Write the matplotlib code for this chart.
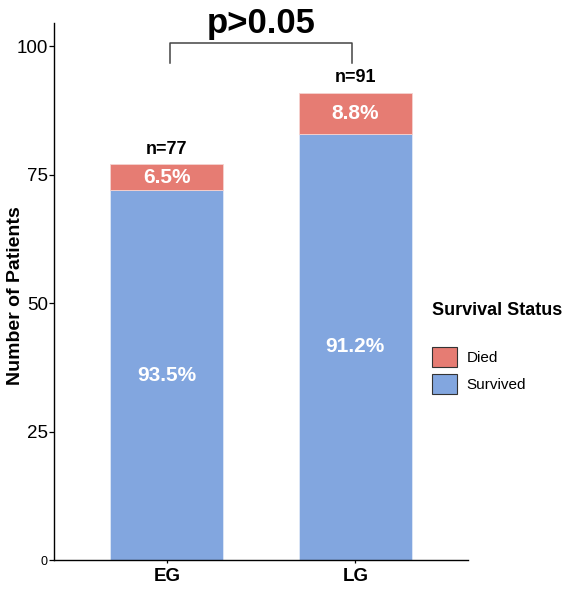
import matplotlib
matplotlib.use("Agg")
import matplotlib.pyplot as plt
from matplotlib.patches import Patch

plt.rcParams['font.family'] = ['Liberation Sans', 'DejaVu Sans']

groups = ["EG", "LG"]
survived = [72, 83]
died = [5, 8]
survived_pct = ["93.5%", "91.2%"]
died_pct = ["6.5%", "8.8%"]
totals = [77, 91]
yticks = [0, 25, 50, 75, 100]

c_died = "#E67C73"
c_surv = "#82A6DF"

fig = plt.figure(figsize=(5.67, 5.89), dpi=100)
ax = fig.add_axes([0.0952, 0.0492, 0.7307, 0.9123])

x = list(range(len(groups)))
ax.bar(x, survived, width=0.6, color=c_surv, edgecolor="#dfe8f7", linewidth=0.6)
ax.bar(x, died, width=0.6, bottom=survived, color=c_died, edgecolor="#f5d3d0", linewidth=0.6)

for i in x:
    ax.text(i, survived[i] / 2, survived_pct[i], ha="center", va="center",
            color="white", fontsize=15, fontweight="bold")
    ax.text(i, survived[i] + died[i] / 2, died_pct[i], ha="center", va="center",
            color="white", fontsize=15, fontweight="bold")
    ax.text(i, totals[i] + 3, f"n={totals[i]}", ha="center", va="center",
            color="black", fontsize=13, fontweight="bold")

# significance bracket
bx0, bx1 = 0.014, 0.984
ax.plot([bx0, bx0, bx1, bx1], [96.8, 100.6, 100.6, 96.8], color="#444444",
        lw=1.1, clip_on=False)
ax.text(0.5, 102.6, "p>0.05", ha="center", va="baseline",
        fontsize=25, fontweight="bold", clip_on=False)

ax.set_xlim(-0.6, 1.6)
ax.set_ylim(0, 104.6)
ax.set_xticks(x)
ax.set_xticklabels(groups, fontsize=13.5, fontweight="bold")
ax.set_yticks(yticks)
ax.set_yticklabels([str(t) for t in yticks], fontsize=13.5)
ax.get_yticklabels()[0].set_fontsize(9)
ax.tick_params(axis="y", length=3.4, width=0.9, color="black", pad=1)
ax.tick_params(axis="x", length=2.5, width=0.9, color="black", pad=3)
ax.set_ylabel("Number of Patients", fontsize=14, fontweight="bold")
ax.yaxis.set_label_coords(-0.072, 0.492)

for s in ["top", "right"]:
    ax.spines[s].set_visible(False)
for s in ["left", "bottom"]:
    ax.spines[s].set_linewidth(1.0)

fig.text(0.7614, 0.4725, "Survival Status", ha="left", va="center",
         fontsize=13, fontweight="bold")
handles = [Patch(facecolor=c_died, edgecolor="#333333", linewidth=0.8, label="Died"),
           Patch(facecolor=c_surv, edgecolor="#333333", linewidth=0.8, label="Survived")]
fig.legend(handles=handles, loc="upper left", bbox_to_anchor=(0.7614, 0.4114),
           frameon=False, fontsize=11, handlelength=1.63, handleheight=1.63,
           labelspacing=0.5, handletextpad=0.65, borderpad=0, borderaxespad=0)

fig.savefig("out.png", dpi=100)
